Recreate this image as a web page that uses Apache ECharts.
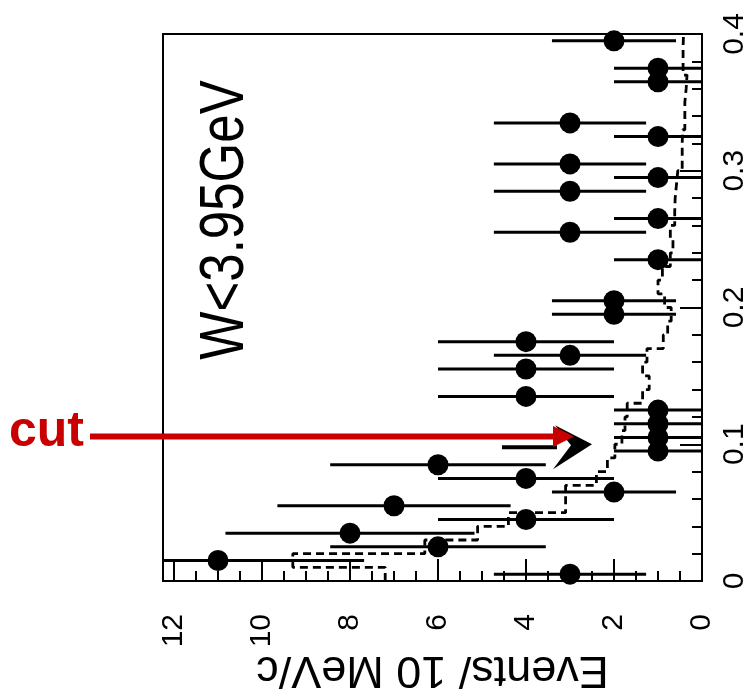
<!DOCTYPE html>
<html>
<head>
<meta charset="utf-8">
<script src="https://cdn.jsdelivr.net/npm/echarts@6/dist/echarts.min.js"></script>
<style>
html,body{margin:0;padding:0;background:#fff;}
#c{width:749px;height:697px;}
</style>
</head>
<body>
<div id="c"></div>
<script>
// ---- data ----
// bin centres of the invariant-mass variable (GeV/c^2)
const massCenters = [0.005,0.015,0.025,0.035,0.045,0.055,0.065,0.075,0.085,0.095,0.105,0.115,0.125,0.135,0.155,0.165,0.175,0.195,0.205,0.235,0.255,0.265,0.285,0.295,0.305,0.325,0.335,0.365,0.375,0.395];
// events per 10 MeV/c
const eventCounts = [3,11,6,8,4,7,2,4,6,1,1,1,1,4,4,3,4,2,2,1,3,1,3,1,3,1,3,1,1,2];
// horizontal error half-widths
const eventErrors = [1.73,3.32,2.45,2.83,2.0,2.65,1.41,2.0,2.45,1.0,1.0,1.0,1.0,2.0,2.0,1.73,2.0,1.41,1.41,1.0,1.73,1.0,1.73,1.0,1.73,1.0,1.73,1.0,1.0,1.41];
// dashed expectation histogram: lower bin edges and heights
const histEdges = [0,0.01,0.02,0.03,0.04,0.05,0.06,0.07,0.08,0.09,0.10,0.11,0.12,0.13,0.14,0.15,0.16,0.17,0.18,0.19,0.20,0.21,0.22,0.23,0.24,0.25,0.26,0.27,0.28,0.29,0.30,0.31,0.32,0.33,0.34,0.35,0.36,0.37,0.38,0.39,0.40];
const histValues = [7.2,9.3,6.3,5.1,4.4,3.1,3.1,2.4,2.15,1.98,1.82,1.75,1.7,1.35,1.2,1.35,1.25,0.88,0.78,0.7,0.85,1.0,0.9,0.72,0.66,0.72,0.62,0.61,0.58,0.55,0.45,0.45,0.44,0.39,0.39,0.36,0.34,0.43,0.43,0.42];
const xTickLabels = ['0','2','4','6','8','10','12'];
const yTickLabels = ['0','0.1','0.2','0.3','0.4'];
const cutMass = 0.1;
const cutArrowEvents = 2.5;
const X_MAX = 12.25, Y_MAX = 0.4;

// ---- build series data ----
const pointData = massCenters.map((m,i)=>[eventCounts[i], m, eventErrors[i]]);
const histLine = [];
for (let i=0;i<histValues.length;i++){
  histLine.push([histValues[i], histEdges[i]]);
  histLine.push([histValues[i], histEdges[i+1]]);
}

const FONT = "'Liberation Sans', Arial, Helvetica, sans-serif";
const chart = echarts.init(document.getElementById('c'));

const option = {
  animation:false,
  backgroundColor:'#fff',
  grid:{left:163,right:47,top:34,bottom:116,containLabel:false,outerBoundsMode:'none',
        show:true,borderColor:'#000',borderWidth:2,backgroundColor:'transparent'},
  xAxis:[{
    type:'value',inverse:true,min:0,max:X_MAX,interval:0.5,position:'bottom',
    axisLine:{show:true,lineStyle:{color:'#000',width:2}},
    axisTick:{show:true,inside:true,length:10,lineStyle:{color:'#000',width:2}},
    splitLine:{show:false},
    axisLabel:{rotate:90,margin:33,fontSize:30,color:'#000',fontFamily:FONT,
      formatter:v=>{const s=String(Math.round(v)); return (Math.abs(v-Math.round(v))<1e-9 && xTickLabels.includes(s) && v<=12)? s:'';}},
    name:'Events/ 10 MeV/c',nameLocation:'middle',nameRotate:180,nameGap:66,nameMoveOverlap:false,
    nameTextStyle:{fontSize:45,color:'#000',fontFamily:FONT}
  },{
    type:'value',inverse:true,min:0,max:X_MAX,interval:2,position:'bottom',
    axisLine:{show:false},
    axisTick:{show:true,inside:true,length:22,lineStyle:{color:'#000',width:2}},
    splitLine:{show:false},axisLabel:{show:false}
  }],
  yAxis:{
    type:'value',position:'right',min:0,max:Y_MAX,interval:0.1,
    axisLine:{show:true,lineStyle:{color:'#000',width:2}},
    axisTick:{show:true,inside:true,length:22,lineStyle:{color:'#000',width:2}},
    minorTick:{show:true,splitNumber:5,length:10,lineStyle:{color:'#000',width:2}},
    splitLine:{show:false},minorSplitLine:{show:false},
    axisLabel:{rotate:90,margin:18,fontSize:30,color:'#000',fontFamily:FONT,
      formatter:v=>{const s=(Math.abs(v)<1e-9)?'0':String(+v.toFixed(1)); return yTickLabels.includes(s)?s:'';}}
  },
  series:[{
    type:'line',name:'expectation',data:histLine,xAxisIndex:0,showSymbol:false,symbol:'none',
    lineStyle:{color:'#000',width:2.8,type:[8,5]},z:2
  },{
    type:'custom',name:'errors',data:pointData,xAxisIndex:0,clip:true,
    encode:{x:0,y:1},
    renderItem:(params,api)=>{
      const x=api.value(0), y=api.value(1), e=api.value(2);
      const p1=api.coord([Math.max(0,x-e),y]);
      const p2=api.coord([Math.min(X_MAX,x+e),y]);
      return {type:'line',shape:{x1:p1[0],y1:p1[1],x2:p2[0],y2:p2[1]},style:{stroke:'#000',lineWidth:3}};
    },z:3
  },{
    type:'scatter',name:'data',data:pointData,xAxisIndex:0,symbol:'circle',symbolSize:21,
    itemStyle:{color:'#000',opacity:1},emphasis:{disabled:true},z:4
  }]
};
chart.setOption(option);

// annotations
const tip = chart.convertToPixel({xAxisIndex:0,yAxisIndex:0},[cutArrowEvents,cutMass]);
const tx = tip[0], ty = tip[1];
chart.setOption({graphic:[
  {type:'text',x:226,y:220,rotation:Math.PI/2,scaleX:0.81,
   style:{text:'W<3.95GeV',fontSize:63,fontFamily:FONT,fill:'#000',align:'center',verticalAlign:'middle'},z:10},
  {type:'rect',shape:{x:tx-90,y:ty+1,width:55,height:4},style:{fill:'#000'},z:10},
  {type:'polygon',shape:{points:[[tx,ty],[tx-37,ty-19],[tx-21,ty+1],[tx-39,ty+25]]},style:{fill:'#000'},z:10},
  {type:'line',shape:{x1:90,y1:436.5,x2:556,y2:436.5},style:{stroke:'#c80000',lineWidth:6},z:11},
  {type:'polygon',shape:{points:[[574,436.5],[553,426],[553,447]]},style:{fill:'#c80000'},z:11},
  {type:'text',x:9,y:432,style:{text:'cut',fontSize:50,fontWeight:'bold',fontFamily:FONT,fill:'#c80000',align:'left',verticalAlign:'middle'},z:11}
]});
</script>
</body>
</html>
